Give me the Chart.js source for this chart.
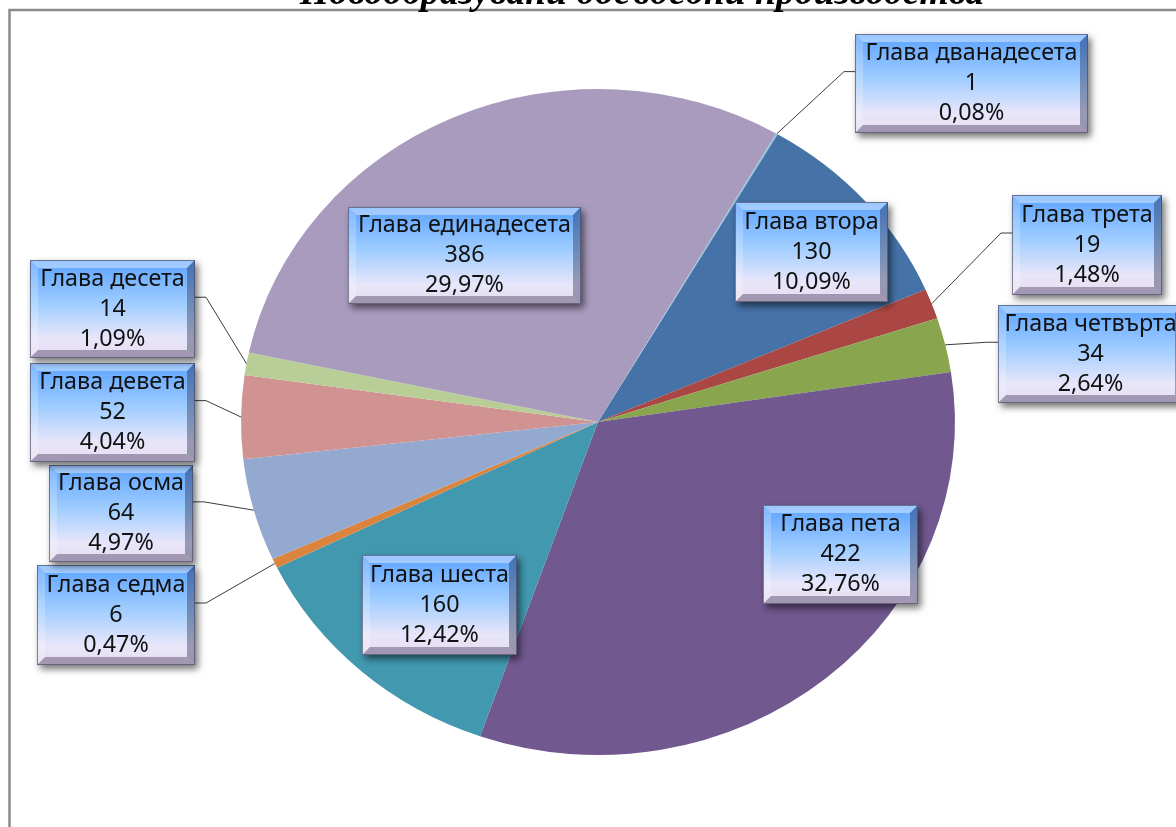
<!DOCTYPE html>
<html>
<head>
<meta charset="utf-8">
<script src="https://cdn.jsdelivr.net/npm/chart.js@4/dist/chart.umd.min.js"></script>
<style>
  html, body { margin: 0; padding: 0; background: #fff; overflow: hidden; }
  #pie-chart { display: block; }
</style>
</head>
<body>
<canvas id="pie-chart" width="1176" height="827"></canvas>
<script>
// chart data, clockwise from the first slice
const chapters = ['Глава втора', 'Глава трета', 'Глава четвърта', 'Глава пета', 'Глава шеста', 'Глава седма',
    'Глава осма', 'Глава девета', 'Глава десета', 'Глава единадесета', 'Глава дванадесета'];
const counts = [130, 19, 34, 422, 160, 6, 64, 52, 14, 386, 1];
const sliceColors = ['#4572A7', '#AA4643', '#89A54E', '#71588F', '#4198AF', '#DB843D',
    '#93A9CF', '#D19392', '#B9CD96', '#A99BBD', '#8CC0D8'];
const titleText = 'Новообразувани досъдебни производства';

// where the data label boxes sit (hand placed, like in the original)
const labelBoxes = [
    { x: 735, y: 202, w: 153, h: 100, leader: false },
    { x: 1012, y: 195, w: 150, h: 100, leader: true },
    { x: 998, y: 305, w: 185, h: 98, leader: true },
    { x: 763, y: 505, w: 155, h: 99, leader: false },
    { x: 362, y: 555, w: 155, h: 100, leader: false },
    { x: 37, y: 565, w: 158, h: 100, leader: true },
    { x: 49, y: 465, w: 144, h: 97, leader: true },
    { x: 30, y: 363, w: 165, h: 99, leader: true },
    { x: 30, y: 260, w: 165, h: 98, leader: true },
    { x: 348, y: 207, w: 233, h: 97, leader: false },
    { x: 855, y: 34, w: 233, h: 99, leader: true }
];

const stretchX = 1.072; // the original pie is a little wider than tall
const labelFont = '"Noto Sans", sans-serif';

function percentText(value) {
    const total = counts.reduce((a, b) => a + b, 0);
    return (value / total * 100).toFixed(2).replace('.', ',') + '%';
}

const ellipsePlugin = {
    id: 'ellipse',
    beforeDatasetsDraw(chart) {
        const arc = chart.getDatasetMeta(0).data[0];
        const ctx = chart.ctx;
        ctx.save();
        ctx.translate(arc.x, arc.y);
        ctx.scale(stretchX, 1);
        ctx.translate(-arc.x, -arc.y);
    },
    afterDatasetsDraw(chart) {
        chart.ctx.restore();
    }
};

const framePlugin = {
    id: 'frame',
    beforeDraw(chart) {
        const ctx = chart.ctx;
        ctx.save();
        ctx.fillStyle = '#fff';
        ctx.fillRect(0, 0, chart.width, chart.height);
        ctx.strokeStyle = '#8a8a8a';
        ctx.lineWidth = 2.5;
        ctx.beginPath();
        ctx.moveTo(9.5, chart.height);
        ctx.lineTo(9.5, 10);
        ctx.lineTo(chart.width, 10);
        ctx.stroke();

        // title, mostly cut off at the top like in the picture
        ctx.font = 'bold italic 30px "Liberation Serif", serif';
        const size = 30 * 685 / ctx.measureText(titleText).width;
        ctx.font = 'bold italic ' + size.toFixed(1) + 'px "Liberation Serif", serif';
        ctx.fillStyle = '#000';
        ctx.textAlign = 'center';
        ctx.textBaseline = 'alphabetic';
        ctx.fillText(titleText, 642, 4);
        ctx.restore();
    }
};

function drawBox(ctx, b) {
    const { x, y, w, h } = b;
    const e = 8;
    ctx.save();
    ctx.shadowColor = 'rgba(0,0,0,0.55)';
    ctx.shadowBlur = 7;
    ctx.shadowOffsetX = 3;
    ctx.shadowOffsetY = 4;
    const g = ctx.createLinearGradient(0, y, 0, y + h);
    g.addColorStop(0, '#5AA2FF');
    g.addColorStop(0.45, '#A0CDFF');
    g.addColorStop(0.8, '#E8E6FA');
    g.addColorStop(1, '#E6DCEE');
    ctx.fillStyle = g;
    ctx.fillRect(x, y, w, h);
    ctx.restore();

    function poly(points, color) {
        ctx.beginPath();
        ctx.moveTo(points[0][0], points[0][1]);
        for (let i = 1; i < points.length; i++) ctx.lineTo(points[i][0], points[i][1]);
        ctx.closePath();
        ctx.fillStyle = color;
        ctx.fill();
    }
    poly([[x, y], [x + w, y], [x + w - e, y + e], [x + e, y + e]], 'rgba(255,255,255,0.4)');
    poly([[x, y], [x + e, y + e], [x + e, y + h - e], [x, y + h]], 'rgba(255,255,255,0.22)');
    poly([[x + w, y], [x + w, y + h], [x + w - e, y + h - e], [x + w - e, y + e]], 'rgba(35,40,75,0.4)');
    poly([[x, y + h], [x + w, y + h], [x + w - e, y + h - e], [x + e, y + h - e]], 'rgba(70,55,95,0.42)');
    ctx.strokeStyle = 'rgba(70,70,95,0.65)';
    ctx.lineWidth = 1;
    ctx.strokeRect(x + 0.5, y + 0.5, w - 1, h - 1);
}

const labelPlugin = {
    id: 'boxLabels',
    afterDraw(chart) {
        const ctx = chart.ctx;
        const meta = chart.getDatasetMeta(0);
        ctx.save();
        ctx.font = '20px ' + labelFont;
        const fs = 20 * 212 / ctx.measureText('Глава дванадесета').width;

        // leader lines first, boxes on top
        meta.data.forEach((arc, i) => {
            const b = labelBoxes[i];
            if (!b.leader) return;
            const mid = (arc.startAngle + arc.endAngle) / 2;
            const ax = arc.x + arc.outerRadius * stretchX * Math.cos(mid);
            const ay = arc.y + arc.outerRadius * Math.sin(mid);
            const onRight = b.x + b.w / 2 > arc.x;
            const sy = b.y + b.h * 0.38;
            const sx = onRight ? b.x : b.x + b.w;
            const stub = onRight ? sx - 11 : sx + 11;
            ctx.strokeStyle = '#3c3c3c';
            ctx.lineWidth = 1;
            ctx.beginPath();
            ctx.moveTo(sx, sy);
            ctx.lineTo(stub, sy);
            ctx.lineTo(ax, ay);
            ctx.stroke();
        });

        meta.data.forEach((arc, i) => {
            const b = labelBoxes[i];
            drawBox(ctx, b);
            const lines = [chapters[i], String(counts[i]), percentText(counts[i])];
            ctx.font = fs.toFixed(1) + 'px ' + labelFont;
            ctx.fillStyle = '#111';
            ctx.textAlign = 'center';
            ctx.textBaseline = 'middle';
            const cx = b.x + b.w / 2;
            const cy = b.y + b.h / 2;
            lines.forEach((t, k) => ctx.fillText(t, cx, cy + (k - 1) * 30));
        });
        ctx.restore();
    }
};

document.addEventListener('DOMContentLoaded', function() {
    const ctx = document.getElementById('pie-chart').getContext('2d');
    window.pieChart = new Chart(ctx, {
        type: 'pie',
        data: {
            labels: chapters,
            datasets: [{
                data: counts,
                backgroundColor: sliceColors,
                borderWidth: 0,
                hoverBorderWidth: 0,
                offset: 0,
                hoverOffset: 0
            }]
        },
        options: {
            responsive: false,
            animation: false,
            events: [],
            rotation: 30.2,
            layout: { padding: { top: 89, bottom: 72, left: 265, right: 245 } },
            plugins: {
                legend: { display: false },
                tooltip: { enabled: false },
                title: { display: false }
            }
        },
        plugins: [framePlugin, ellipsePlugin, labelPlugin]
    });
});
</script>
</body>
</html>
